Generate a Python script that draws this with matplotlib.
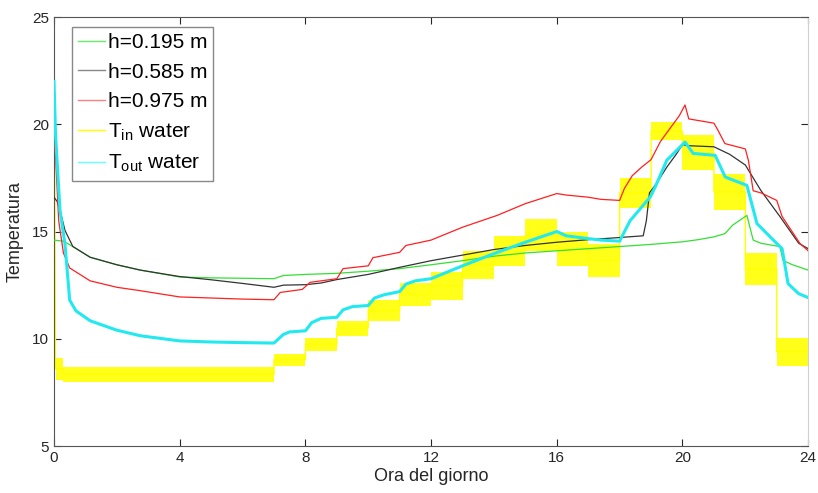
import matplotlib.pyplot as plt
import numpy as np

plt.rcParams['font.family'] = ['Liberation Sans', 'DejaVu Sans']
plt.rcParams['mathtext.fontset'] = 'custom'
plt.rcParams['mathtext.rm'] = 'Liberation Sans'
plt.rcParams['mathtext.it'] = 'Liberation Sans'

# h=0.195 m
x_g = [0, 0.3, 0.6, 1.15, 2, 2.75, 4, 5, 6, 7, 7.3, 8, 9, 10, 11, 12, 13, 14, 15, 16,
       17, 18, 19, 20, 20.5, 21, 21.35, 21.6, 22.05, 22.25, 22.5, 23.1, 23.2, 23.5, 24]
y_g = [14.6, 14.55, 14.3, 13.8, 13.45, 13.2, 12.88, 12.84, 12.82, 12.8, 12.95, 13.0, 13.05,
       13.15, 13.27, 13.45, 13.64, 13.85, 14.0, 14.1, 14.2, 14.3, 14.4, 14.52, 14.62, 14.75,
       14.9, 15.3, 15.75, 14.6, 14.45, 14.3, 13.65, 13.45, 13.2]

# h=0.585 m
x_k = [0, 0.1, 0.19, 0.35, 0.6, 1.15, 2, 2.75, 4, 5, 6, 7, 7.3, 8, 8.5, 9, 10, 11, 12, 13,
       14, 15, 16, 17, 18, 18.75, 18.85, 18.95, 19.2, 19.5, 19.8, 20.0, 20.2, 21.0, 21.5,
       22.0, 22.5, 23.1, 23.7, 24]
y_k = [16.6, 16.4, 16.0, 15.05, 14.3, 13.8, 13.45, 13.2, 12.9, 12.75, 12.58, 12.4, 12.5,
       12.52, 12.6, 12.76, 13.0, 13.33, 13.64, 13.9, 14.16, 14.35, 14.5, 14.62, 14.72, 14.8,
       15.5, 16.8, 17.3, 18.0, 18.6, 19.05, 19.0, 18.95, 18.6, 18.1, 16.9, 15.7, 14.45, 14.2]

# h=0.975 m
x_r = [0, 0.05, 0.15, 0.3, 0.5, 1.15, 2, 2.75, 4, 5, 6, 7, 7.2, 7.9, 8.15, 9.0, 9.2, 10.0,
       10.15, 11.0, 11.2, 12.0, 13.0, 14.1, 15.0, 16.0, 16.3, 17.0, 17.4, 18.0, 18.15, 18.4,
       18.7, 19.0, 19.3, 19.6, 19.9, 20.08, 20.2, 21.0, 21.1, 21.35, 22.0, 22.1, 22.25,
       22.5, 23.0, 23.17, 23.74, 24]
y_r = [19.1, 18.5, 15.5, 14.0, 13.3, 12.7, 12.4, 12.24, 11.95, 11.9, 11.85, 11.82, 12.16,
       12.3, 12.63, 12.8, 13.27, 13.4, 13.78, 14.03, 14.35, 14.6, 15.2, 15.75, 16.3, 16.77,
       16.7, 16.6, 16.5, 16.45, 17.0, 17.6, 18.0, 18.35, 19.2, 19.8, 20.4, 20.9, 20.25,
       20.05, 19.8, 19.1, 18.85, 18.3, 16.9, 16.8, 16.45, 15.7, 14.44, 14.1]

# T_out water
x_c = [0, 0.05, 0.19, 0.35, 0.5, 0.7, 1.15, 2, 2.75, 4, 5, 6, 7, 7.3, 7.5, 8.0, 8.2, 8.5,
       9.0, 9.2, 9.5, 10.0, 10.2, 10.5, 11.0, 11.2, 11.5, 12.0, 13.0, 14.0, 15.0, 16.0,
       16.3, 17.0, 17.4, 18.0, 18.33, 18.97, 19.13, 19.5, 20.08, 20.34, 21.04, 21.36,
       22.05, 22.37, 23.0, 23.17, 23.36, 23.7, 24]
y_c = [22.0, 19.5, 16.0, 14.4, 11.8, 11.3, 10.84, 10.4, 10.14, 9.9, 9.85, 9.82, 9.8, 10.2,
       10.32, 10.37, 10.75, 10.95, 11.0, 11.35, 11.5, 11.55, 11.9, 12.05, 12.2, 12.55, 12.7,
       12.8, 13.4, 13.97, 14.5, 15.0, 14.8, 14.67, 14.6, 14.55, 15.5, 16.6, 17.07, 18.32,
       19.17, 18.64, 18.55, 17.54, 17.15, 15.37, 14.44, 14.2, 12.57, 12.1, 11.92]

# T_in water: oscillating band per time slot (start, end, min, max)
seg_start = [0.05, 0.3, 7, 8, 9, 10, 11, 12, 13, 14, 15, 16, 17, 18, 19, 20, 21, 22, 23]
seg_end = [0.3, 7, 8, 9, 10, 11, 12, 13, 14, 15, 16, 17, 18, 19, 20, 21, 22, 23, 24]
seg_lo = [8.1, 8.0, 8.75, 9.45, 10.15, 10.85, 11.55, 11.8, 12.8, 13.4, 14.1, 13.4, 12.9,
          16.1, 19.25, 17.85, 16.0, 12.5, 8.75]
seg_hi = [9.1, 8.7, 9.3, 10.05, 10.85, 11.8, 12.6, 13.1, 14.1, 14.8, 15.6, 15.0, 14.4,
          17.5, 20.1, 19.5, 17.7, 14.0, 10.05]
t_in_start = 25.0

fig = plt.figure(figsize=(8.18, 4.93), dpi=100)
ax = fig.add_axes([0.066, 0.0953, 0.922, 0.8702])

bx = np.column_stack([seg_start, seg_end]).ravel()
blo = np.repeat(seg_lo, 2)
bhi = np.repeat(seg_hi, 2)
bmid = (blo + bhi) / 2

ax.plot(x_g, y_g, color='#33e033', lw=0.9, zorder=3)
ax.plot(x_k, y_k, color='#333333', lw=0.9, zorder=3)
ax.plot(x_r, y_r, color='#ff2020', lw=0.9, zorder=3)
ax.fill_between(bx, blo, bhi, color='#ffff1a', lw=0, zorder=2)
ax.plot(np.concatenate([[0, 0.05], bx]), np.concatenate([[t_in_start, bmid[0]], bmid]),
        color='#ffff00', lw=1.0, zorder=2)
ax.plot(x_c, y_c, color='#22e8f0', lw=2.2, zorder=4)

ax.set_xlim(0, 24)
ax.set_ylim(5, 25)
ax.set_xticks(range(0, 25, 4))
ax.set_yticks(range(5, 26, 5))
ax.tick_params(direction='in', length=5, width=0.8, labelsize=11, colors='#262626',
               top=True, right=True)
for s in ['left', 'bottom', 'top']:
    ax.spines[s].set_color('#555555')
ax.spines['right'].set_color('#d0d0d0')
ax.set_xlabel('Ora del giorno', fontsize=13, color='#262626', labelpad=2)
ax.set_ylabel('Temperatura', fontsize=13, color='#262626', labelpad=6)

leg_lines = [plt.Line2D([], [], color=c, lw=1) for c in
             ['#66ee66', '#888888', '#ff8080', '#ffff00', '#66ffff']]
ax.legend(leg_lines, ['h=0.195 m', 'h=0.585 m', 'h=0.975 m',
                      r'T$_{\mathrm{in}}$ water', r'T$_{\mathrm{out}}$ water'],
          loc='upper left', bbox_to_anchor=(0.024, 0.977), borderaxespad=0,
          fontsize=15, fancybox=False, edgecolor='#888888', framealpha=1,
          handlelength=1.3, handletextpad=0.1, labelspacing=0.5, borderpad=0.3)

plt.savefig('out.png', dpi=100)
